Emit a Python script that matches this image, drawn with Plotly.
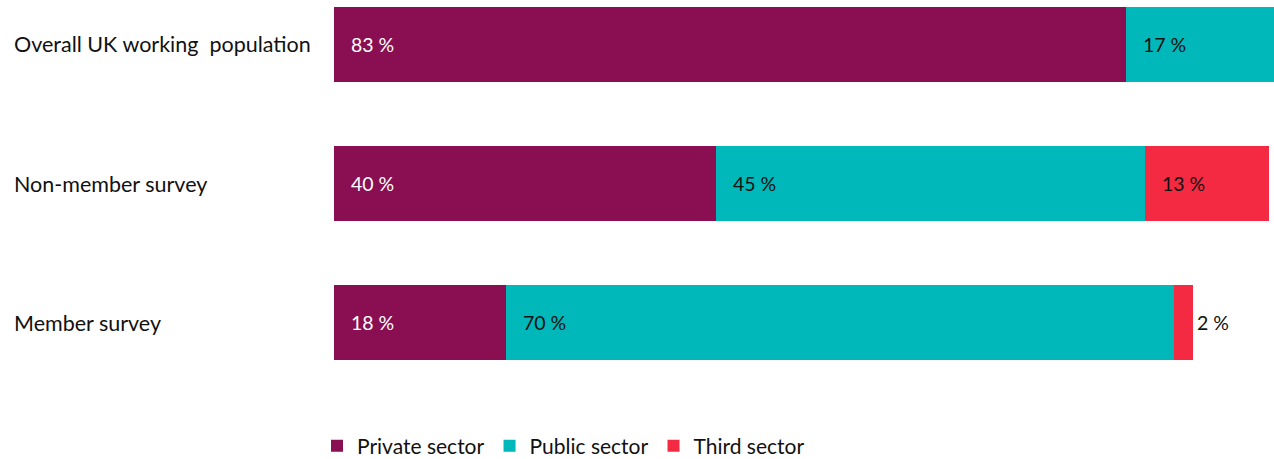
import plotly.graph_objects as go

# Share of respondents by employment sector
groups = ["Overall UK working  population", "Non-member survey", "Member survey"]
sectors = ["Private sector", "Public sector", "Third sector"]
private = [83, 40, 18]
public = [17, 45, 70]
third = [0, 13, 2]
labels_private = ["83 %", "40 %", "18 %"]
labels_public = ["17 %", "45 %", "70 %"]
labels_third = ["", "13 %", "2 %"]

colors = ["#8A0F52", "#00B8BA", "#F42A43"]
label_colors = ["white", "#111111", "#111111"]
FONT = "Lato"

ypos = list(range(len(groups)))
series = [private, public, third]
label_sets = [labels_private, labels_public, labels_third]

fig = go.Figure()
for name, vals, col in zip(sectors, series, colors):
    fig.add_trace(go.Bar(
        y=ypos, x=vals, name=name, orientation="h",
        marker=dict(color=col, line=dict(width=0)),
        width=0.54, hoverinfo="x+name",
    ))

# Value labels: placed just inside the start of each segment,
# or just right of the segment when it is too thin to hold text
for si, (vals, labs) in enumerate(zip(series, label_sets)):
    for gi, (v, lab) in enumerate(zip(vals, labs)):
        if not lab:
            continue
        start = sum(series[k][gi] for k in range(si))
        if v >= 5:
            x, shift, colr = start, 15, label_colors[si]
        else:
            x, shift, colr = start + v, 2, "#111111"
        fig.add_annotation(
            x=x, y=gi, xref="x", yref="y", text=lab, showarrow=False,
            xanchor="left", yanchor="middle", xshift=shift,
            font=dict(family=FONT, size=19.5, color=colr),
        )

# Group names, left aligned in the margin
for gi, g in enumerate(groups):
    fig.add_annotation(
        x=0, y=gi, xref="paper", yref="y", text=g, showarrow=False,
        xanchor="left", yanchor="middle", xshift=-322,
        font=dict(family=FONT, size=21.5, color="#111111"),
    )

fig.update_layout(
    width=1274, height=459,
    barmode="stack",
    bargap=0,
    margin=dict(l=334, r=0, t=0, b=59),
    paper_bgcolor="white", plot_bgcolor="white",
    font=dict(family=FONT, size=21, color="#111111"),
    xaxis=dict(range=[0, 98.5], visible=False, fixedrange=True),
    yaxis=dict(range=[2.557, -0.32], visible=False, fixedrange=True),
    showlegend=True,
    legend=dict(
        orientation="h", xref="container", x=317 / 1274, xanchor="left",
        yref="container", y=13 / 459, yanchor="middle",
        font=dict(family=FONT, size=21, color="#111111"),
        itemwidth=30,
        traceorder="normal",
    ),
)

fig.write_html("out.html")
